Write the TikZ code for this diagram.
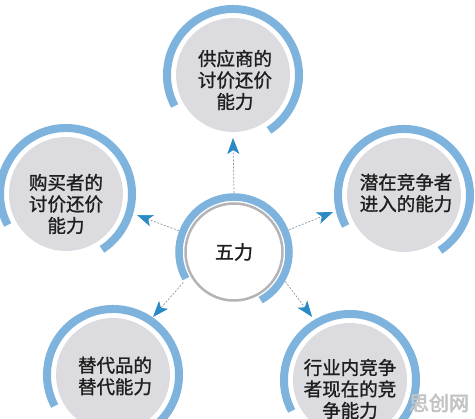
\documentclass[tikz,border=0pt]{standalone}
\usepackage{fontspec}
\setmainfont{Noto Sans CJK SC}[RawFeature={embolden=1.2}]
\newfontfamily\wmfont{Noto Sans CJK SC}[RawFeature={embolden=3}]
\usetikzlibrary{arrows.meta,calc}
\definecolor{ringblue}{HTML}{7DB3DC}
\definecolor{arrowblue}{HTML}{2A8AC6}
\definecolor{discgrey}{HTML}{DCDCE0}
\definecolor{centergrey}{HTML}{B4B4B8}
\definecolor{dashgrey}{HTML}{8C98A4}
\definecolor{txt}{HTML}{1E1E1E}
\definecolor{wmark}{HTML}{C4C4C4}
\begin{document}
\begin{tikzpicture}[x=1pt,y=1pt,
  disc/.style={circle,fill=discgrey,minimum size=114pt,inner sep=0pt},
  hub/.style={circle,minimum size=118pt,inner sep=0pt,font=\fontsize{19}{21}\selectfont,text=txt},
  ring/.style={draw=ringblue,line width=8pt},
  lbl/.style={align=center,font=\fontsize{18.5}{21.5}\selectfont,text=txt,inner sep=0pt},
  conn/.style={draw=dashgrey,line width=0.7pt,dash pattern=on 2pt off 1.5pt,
    -{Stealth[length=16pt,width=12pt,inset=4pt,color=arrowblue]}},
]
\useasboundingbox (0,0) rectangle (475,419);
\fill[white] (0,0) rectangle (475,419);

% outer discs
\node[disc] (T)  at (233,344) {};
\node[disc] (L)  at (66,225) {};
\node[disc] (R)  at (404,224) {};
\node[disc] (BL) at (113,44) {};
\node[disc] (BR) at (350,39) {};

\foreach \n in {T,L,R,BL,BR}{
  \draw[ring] ($(\n)+(208:66)$) arc[start angle=208,end angle=-57,radius=66];
}

% hub
\node[hub] (C) at (234,167) {五力};
\draw[draw=centergrey,line width=2.5pt] (C) circle[radius=48.5];
\draw[draw=ringblue,line width=7.5pt] ($(C)+(209:55)$) arc[start angle=209,end angle=-61,radius=55];

% labels
\node[lbl] (tT)  at (235,339) {供应商的\\讨价还价\\能力};
\node[lbl] (tL)  at (66,215) {购买者的\\讨价还价\\能力};
\node[lbl] (tR)  at (406,226) {潜在竞争者\\进入的能力};
\node[lbl] (tBL) at (115,43) {替代品的\\替代能力};
\node[lbl] (tBR) at (350,30) {行业内竞争\\者现在的竞\\争能力};

% arrow tips
\coordinate (pT)  at ($(T)+(-90:63)$);
\coordinate (pL)  at ($(L)+(-16.5:74)$);
\coordinate (pR)  at ($(R)+(193.5:73)$);
\coordinate (pBL) at ($(BL)+(55.4:70.5)$);
\coordinate (pBR) at ($(BR)+(121:73.6)$);

\draw[conn] (C.90) -- (pT);
\draw[conn] (C.159.5) -- (pL);
\draw[conn] (C.22) -- (pR);
\draw[conn] (C.211.5) -- (pBL);
\draw[conn] (C.-30.5) -- (pBR);

% watermark
\node[font=\wmfont\fontsize{20}{22}\selectfont,text=wmark,inner sep=1pt] (wm) at (439,16) {思创网};
\end{tikzpicture}
\end{document}
